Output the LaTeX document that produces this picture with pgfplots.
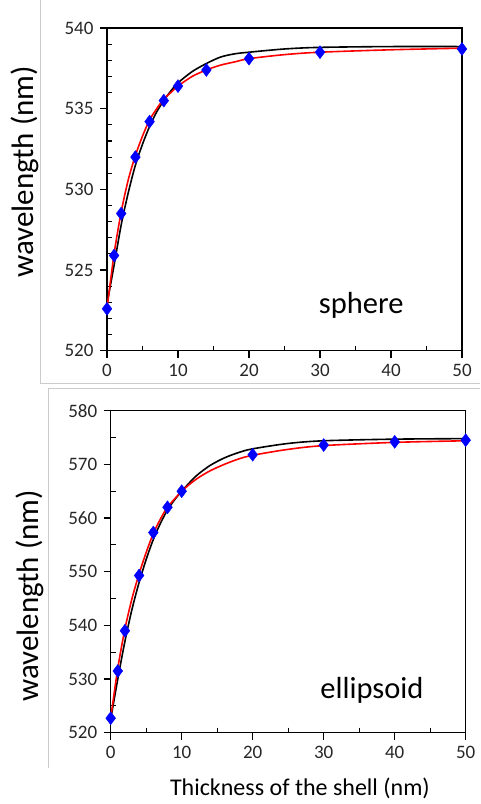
\documentclass[border=0pt]{standalone}
\usepackage{fontspec}
\setmainfont{Carlito}
\usepackage{pgfplots}
\pgfplotsset{compat=1.18}

\pgfplotsset{
  shellax/.style={
    scale only axis,
    width=355pt,
    xmin=0, xmax=50,
    xtick={0,10,...,50},
    minor x tick num=1,
    axis line style={black, line width=1.3pt},
    tick style={black, line width=1.1pt},
    major tick length=7pt,
    minor tick length=-5pt,
    tick align=outside,
    tick pos=left,
    ticklabel style={font=\fontsize{19}{19}\selectfont, text=black!85},
    /pgf/number format/assume math mode=true,
    /pgf/number format/set thousands separator={},
    xticklabel style={yshift=-3pt},
    yticklabel style={xshift=-3pt},
    ylabel={wavelength (nm)},
    ylabel style={font=\fontsize{31}{31}\selectfont, rotate=0, anchor=center},
    clip=false,
  },
  blk/.style={black, line width=1.6pt, smooth, no marks},
  rd/.style={red, line width=1.6pt, smooth, no marks},
  pts/.style={only marks, mark=diamond*, mark size=6.5pt, blue, mark options={fill=blue, draw=blue}},
}

\begin{document}
\begin{tikzpicture}[x=1pt,y=1pt]
\path[use as bounding box] (0,0) rectangle (480,-804);
% frames of the two panels
\draw[black!20, line width=0.8pt] (40,0) -- (40,-383) -- (480,-383);
\draw[black!20, line width=0.8pt] (48,-768) -- (48,-388) -- (480,-388);

% sphere
\begin{axis}[shellax,
  at={(107pt,-350.7pt)}, anchor=south west,
  height=322.7pt,
  ymin=520, ymax=540,
  ytick={520,525,...,540},
  minor y tick num=4,
  ylabel style={at={(axis description cs:-0.231,0.554)}},
]
\addplot[blk] coordinates {
 (0,522.9) (1,525.3) (2,527.8) (3,529.8) (4,531.5) (5,532.8) (6,533.9)
 (7,534.8) (8,535.5) (9,536.1) (10,536.6) (12,537.3) (14,537.8) (16,538.2)
 (18,538.4) (20,538.5) (25,538.7) (30,538.8) (40,538.85) (50,538.85)
};
\addplot[rd] coordinates {
 (0,522.6) (1,526.0) (2,528.6) (3,530.6) (4,532.1) (5,533.3) (6,534.3)
 (7,535.0) (8,535.6) (9,536.0) (10,536.4) (12,537.0) (14,537.4) (16,537.7)
 (18,537.9) (20,538.1) (25,538.35) (30,538.5) (40,538.65) (50,538.75)
};
\addplot[pts] coordinates {
 (0,522.6) (1,525.9) (2,528.5) (4,532.0) (6,534.2) (8,535.5) (10,536.4)
 (14,537.4) (20,538.1) (30,538.5) (50,538.7)
};
\node[font=\fontsize{30.5}{30.5}\selectfont] at (axis cs:35.8,522.8) {sphere};
\end{axis}

% ellipsoid
\begin{axis}[shellax,
  at={(110.7pt,-732.7pt)}, anchor=south west,
  height=322pt,
  ymin=520, ymax=580,
  ytick={520,530,...,580},
  minor y tick num=1,
  ylabel style={at={(axis description cs:-0.227,0.425)}},
  xlabel={Thickness of the shell (nm)},
  xlabel style={font=\fontsize{24}{24}\selectfont, anchor=center, at={(axis description cs:0.533,-0.172)}},
]
\addplot[blk] coordinates {
 (0,522.5) (1,530.0) (2,537.0) (3,543.0) (4,548.0) (5,552.3) (6,556.0)
 (7,559.0) (8,561.5) (9,563.4) (10,565.0) (12,567.8) (14,569.8) (16,571.2)
 (18,572.2) (20,572.9) (25,573.9) (30,574.4) (40,574.7) (50,574.8)
};
\addplot[rd] coordinates {
 (0,522.7) (1,532.0) (2,539.3) (3,545.0) (4,549.6) (5,553.6) (6,557.1)
 (7,559.8) (8,562.0) (10,565.0) (12,567.2) (14,568.8) (16,570.0) (18,571.0)
 (20,571.7) (25,572.8) (30,573.5) (40,574.1) (50,574.4)
};
\addplot[pts] coordinates {
 (0,522.7) (1,531.5) (2,539.0) (4,549.3) (6,557.3) (8,562.0) (10,565.0)
 (20,571.8) (30,573.6) (40,574.2) (50,574.5)
};
\node[font=\fontsize{30.5}{30.5}\selectfont] at (axis cs:36.8,527.95) {ellipsoid};
\end{axis}
\end{tikzpicture}
\end{document}
